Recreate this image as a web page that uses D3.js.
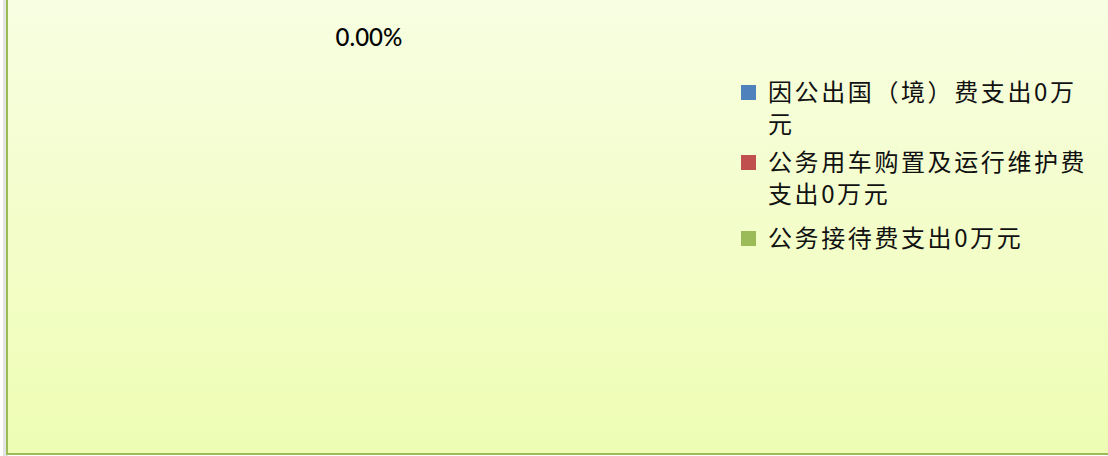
<!DOCTYPE html>
<html>
<head>
<meta charset="utf-8">
<script src="https://cdn.jsdelivr.net/npm/d3@7"></script>
<style>
  html, body { margin: 0; padding: 0; background: #fff; }
  svg { display: block; }
</style>
</head>
<body>
<div id="chart"></div>
<script>
// data: every item is 0 万元
const categories = ['因公出国（境）费支出0万元', '公务用车购置及运行维护费支出0万元', '公务接待费支出0万元'];
const legendLines = [['因公出国（境）费支出0万', '元'], ['公务用车购置及运行维护费', '支出0万元'], ['公务接待费支出0万元']];
const values = [0, 0, 0];
const colors = ['#4F81BD', '#C0504D', '#9BBB59'];

const width = 1108, height = 456;

const svg = d3.select('#chart').append('svg')
    .attr('width', width)
    .attr('height', height);

const defs = svg.append('defs');
const grad = defs.append('linearGradient')
    .attr('id', 'bg')
    .attr('x1', 0).attr('y1', 0).attr('x2', 0).attr('y2', 1);
grad.append('stop').attr('offset', '0%').attr('stop-color', '#F8FEE3');
grad.append('stop').attr('offset', '100%').attr('stop-color', '#EEFDB3');

// little shadow on the left side of the frame
svg.append('rect')
    .attr('x', 3).attr('y', -10)
    .attr('width', 5).attr('height', height + 20)
    .attr('fill', '#E4E4E4');

// chart area, top and right edges are cut off
svg.append('rect')
    .attr('x', 7).attr('y', -10)
    .attr('width', width + 10).attr('height', 464)
    .attr('fill', 'url(#bg)')
    .attr('stroke', '#9BBB59')
    .attr('stroke-width', 2);

// pie (all zero, so no visible slices)
const cx = 369, cy = 240, r = 170;
const g = svg.append('g').attr('transform', `translate(${cx},${cy})`);

const total = d3.sum(values);
const pie = d3.pie().sort(null).value(d => d)(values);
const arc = d3.arc().innerRadius(0).outerRadius(r);
const labelArc = d3.arc().innerRadius(r + 32).outerRadius(r + 32);

g.selectAll('path.slice')
    .data(pie)
    .enter()
    .append('path')
    .attr('class', 'slice')
    .attr('d', arc)
    .attr('fill', (d, i) => colors[i]);

// labels: slices of zero size all sit at the same place, keep one
const seen = new Set();
const labels = pie.filter(d => {
    const key = labelArc.centroid(d).map(v => Math.round(v)).join(',');
    if (seen.has(key)) return false;
    seen.add(key);
    return true;
});
g.selectAll('text.pct')
    .data(labels)
    .enter()
    .append('text')
    .attr('class', 'pct')
    .attr('transform', d => `translate(${labelArc.centroid(d)})`)
    .attr('text-anchor', 'middle')
    .attr('dy', '0.35em')
    .style('font-family', 'Lato, "Open Sans", sans-serif')
    .style('font-size', '24px')
    .style('font-weight', 500)
    .style('fill', '#000')
    .text(d => (total > 0 ? d.data / total * 100 : 0).toFixed(2) + '%');

// legend
const rowY = [92, 162, 238];
const legend = svg.append('g').attr('class', 'legend');
categories.forEach((cat, i) => {
    const row = legend.append('g').attr('transform', `translate(741,${rowY[i]})`);
    row.append('rect')
        .attr('x', 0).attr('y', -7)
        .attr('width', 15).attr('height', 15)
        .attr('fill', colors[i]);
    const t = row.append('text')
        .attr('x', 27)
        .attr('y', 0)
        .style('font-family', '"Noto Sans CJK SC", sans-serif')
        .style('font-size', '24px')
        .style('letter-spacing', '2.6px')
        .style('fill', '#111');
    legendLines[i].forEach((line, j) => {
        t.append('tspan')
            .attr('x', 27)
            .attr('dy', j === 0 ? '0.36em' : '32px')
            .text(line);
    });
});
</script>
</body>
</html>
